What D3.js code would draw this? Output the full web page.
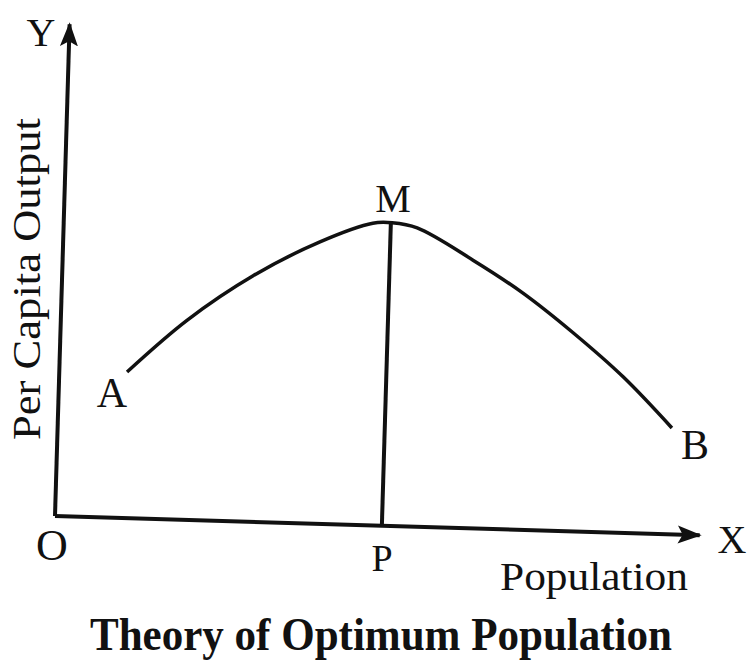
<!DOCTYPE html>
<html lang="en">
<head>
    <meta charset="UTF-8">
    <title>Theory of Optimum Population</title>
    <script src="https://cdn.jsdelivr.net/npm/d3@7"></script>
    <style>
        body { margin: 0; background: #fff; }
        text { font-family: "Liberation Serif", "DejaVu Serif", serif; fill: #111; }
    </style>
</head>
<body>
<script>
    // curve A -> M -> B (population, per capita output)
    var population = [10.5, 19.6, 29.6, 39.8, 47.9, 50.9, 54.8, 63.6, 71.5, 79.4, 87.4, 95.2];
    var perCapita  = [29.7, 40.6, 50.0, 57.3, 61.4, 61.6, 60.7, 54.5, 48.1, 40.4, 31.7, 21.6];

    // optimum point M and its foot P on the x axis
    var optimumPop = 50.7;
    var optimumOutput = 61.6;

    var width = 748, height = 666;

    var svg = d3.select("body").append("svg")
        .attr("width", width)
        .attr("height", height);

    // the scanned figure is a little tilted, so the plot sits in a rotated group
    var x = d3.scaleLinear().domain([0, 100]).range([0, 645]);
    var y = d3.scaleLinear().domain([0, 100]).range([0, -492]);

    var defs = svg.append("defs");
    defs.append("marker")
        .attr("id", "arrow")
        .attr("markerUnits", "userSpaceOnUse")
        .attr("viewBox", "0 -10 24 20")
        .attr("refX", 22)
        .attr("refY", 0)
        .attr("markerWidth", 24)
        .attr("markerHeight", 20)
        .attr("orient", "auto")
        .append("path")
        .attr("d", "M0,-9 L24,0 L0,9 L5,0 Z")
        .attr("fill", "#111");

    var plot = svg.append("g")
        .attr("transform", "translate(55,516) rotate(1.7)");

    // axes
    plot.append("line")
        .attr("x1", x(0)).attr("y1", y(0))
        .attr("x2", x(0)).attr("y2", y(100))
        .attr("stroke", "#111")
        .attr("stroke-width", 4)
        .attr("marker-end", "url(#arrow)");

    plot.append("line")
        .attr("x1", x(0)).attr("y1", y(0))
        .attr("x2", x(100)).attr("y2", y(0))
        .attr("stroke", "#111")
        .attr("stroke-width", 4)
        .attr("marker-end", "url(#arrow)");

    // per capita output curve
    var pts = population.map(function (p, i) { return [p, perCapita[i]]; });
    var line = d3.line()
        .x(function (d) { return x(d[0]); })
        .y(function (d) { return y(d[1]); })
        .curve(d3.curveCatmullRom.alpha(0.5));

    plot.append("path")
        .datum(pts)
        .attr("d", line)
        .attr("fill", "none")
        .attr("stroke", "#111")
        .attr("stroke-width", 3.5);

    // MP line
    plot.append("line")
        .attr("x1", x(optimumPop)).attr("y1", y(optimumOutput))
        .attr("x2", x(optimumPop)).attr("y2", y(0))
        .attr("stroke", "#111")
        .attr("stroke-width", 4);

    // letters
    var letters = [
        { t: "Y", x: 41, y: 46, s: 40 },
        { t: "A", x: 112, y: 407, s: 42 },
        { t: "M", x: 393, y: 212, s: 40 },
        { t: "B", x: 695, y: 459, s: 42 },
        { t: "O", x: 52, y: 560, s: 44 },
        { t: "P", x: 382, y: 571, s: 38 },
        { t: "X", x: 732, y: 553, s: 40 }
    ];
    svg.append("g").selectAll("text")
        .data(letters)
        .enter()
        .append("text")
        .attr("x", function (d) { return d.x; })
        .attr("y", function (d) { return d.y; })
        .attr("text-anchor", "middle")
        .attr("font-size", function (d) { return d.s; })
        .text(function (d) { return d.t; });

    // axis titles
    svg.append("text")
        .attr("transform", "translate(40,279) rotate(-90)")
        .attr("text-anchor", "middle")
        .attr("font-size", 40)
        .attr("textLength", 322)
        .attr("lengthAdjust", "spacingAndGlyphs")
        .text("Per Capita Output");

    svg.append("text")
        .attr("x", 500)
        .attr("y", 590)
        .attr("font-size", 40)
        .attr("textLength", 188)
        .attr("lengthAdjust", "spacingAndGlyphs")
        .text("Population");

    // caption
    svg.append("text")
        .attr("x", 90)
        .attr("y", 650)
        .attr("font-size", 46)
        .attr("font-weight", "bold")
        .attr("textLength", 582)
        .attr("lengthAdjust", "spacingAndGlyphs")
        .text("Theory of Optimum Population");
</script>
</body>
</html>
